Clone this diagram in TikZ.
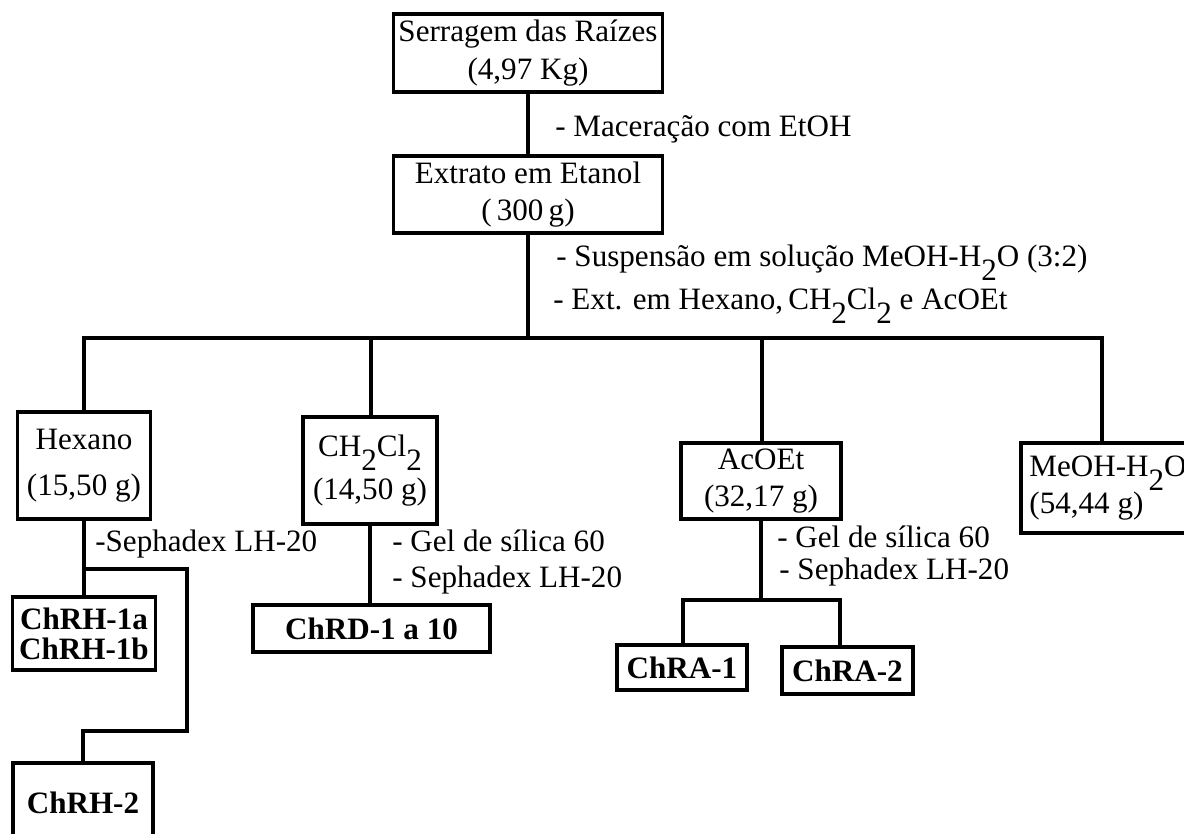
\documentclass[tikz,border=0pt]{standalone}
\usepackage{fontspec}
\setmainfont{Liberation Serif}
\newcommand{\baixo}[1]{\raisebox{-0.45em}{#1}}

\begin{document}
\begin{tikzpicture}[x=0.02cm,y=-0.02cm]
  \tikzstyle{caixa}=[draw=black, line width=2pt, inner sep=0pt, align=center,
  font=\fontsize{17.7}{21.2}\selectfont]
  \tikzstyle{produto}=[caixa, font=\fontsize{17.7}{21.2}\selectfont\bfseries]
  \tikzstyle{rotulo}=[anchor=base west, inner sep=0pt, font=\fontsize{17.7}{21.2}\selectfont]
  \tikzstyle{linha}=[line width=2pt, line cap=rect]
  \useasboundingbox (0,0) rectangle (1184,834);
  \clip (0,0) rectangle (1184,834);
  % caixas das etapas
  \foreach \n/\x/\y/\w/\h/\t in {serr/528/53/269/78/{Serragem das Raízes\\(4,97 Kg)},
    extr/528/194.5/269/77/{Extrato em Etanol\\(\,300\,g)},
    hex/84/465.5/133/107/{Hexano\\[0.18cm](15,50 g)},
    dcm/370/470.5/134/107/{CH\baixo{2}Cl\baixo{2}\\[0.1cm](14,50 g)},
    aco/761/481/160/76/{AcOEt\\(32,17 g)}} {
    \draw (\x,\y) node[caixa, minimum width=\w*0.02cm, minimum height=\h*0.02cm] (\n) {\t};
  }
  \draw (1108,488) node[caixa, align=left, minimum width=174*0.02cm,
    minimum height=90*0.02cm] (meoh) {MeOH-H\baixo{2}O\\(54,44 g)};
  % substancias isoladas
  \foreach \n/\x/\y/\w/\h/\t in {chrh1/84/633.5/143/73/{ChRH-1a\\[-0.14cm]ChRH-1b},
    chrh2/83/802.5/140/79/{ChRH-2},
    chrd/371.5/628.5/237/47/{ChRD-1 a 10},
    chra1/682/667.5/130/45/{ChRA-1},
    chra2/847.5/670.5/131/47/{ChRA-2}} {
    \draw (\x,\y) node[produto, minimum width=\w*0.02cm, minimum height=\h*0.02cm] (\n) {\t};
  }
  % textos dos procedimentos
  \foreach \n/\x/\y/\t in {mac/555/137/{- Maceração com EtOH},
    susp/556/267/{- Suspensão em solução MeOH-H\baixo{2}O (3:2)},
    ext/553/310/{- Ext. em Hexano,\,CH\baixo{2}Cl\baixo{2} e AcOEt},
    sep1/95/552/{-Sephadex LH-20},
    gel1/392/552/{- Gel de sílica 60},
    sep2/392/587/{- Sephadex LH-20},
    gel2/777/548/{- Gel de sílica 60},
    sep3/779/580/{- Sephadex LH-20}} {
    \node[rotulo] (\n) at (\x,\y) {\t};
  }
  % ligacoes
  \coordinate (tronco) at (528,338);
  \coordinate (r1) at (84,338);
  \coordinate (r2) at (371,338);
  \coordinate (r3) at (762,338);
  \coordinate (r4) at (1102,338);
  \coordinate (h1) at (84,569);
  \coordinate (h2) at (187,569);
  \coordinate (h3) at (187,731);
  \coordinate (h4) at (83,731);
  \coordinate (a1) at (683,600);
  \coordinate (a2) at (840,600);
  \draw[linha] (serr) -- (extr);
  \draw[linha] (extr.south) -- (tronco);
  \draw[linha] (r1) -- (r4);
  \foreach \a/\b in {r1/hex,r2/dcm,r3/aco,r4/meoh} {
    \draw[linha] (\a) -- (\a |- \b.north);
  }
  \draw[linha] (hex.south) -- (h1) -- (h2) -- (h3) -- (h4) -- (h4 |- chrh2.north);
  \draw[linha] (h1) -- (h1 |- chrh1.north);
  \draw[linha] (dcm.south) -- (dcm.south |- chrd.north);
  \draw[linha] (aco.south) -- (aco.south |- a1);
  \draw[linha] (a1) -- (a2);
  \foreach \a/\b in {a1/chra1,a2/chra2} {
    \draw[linha] (\a) -- (\a |- \b.north);
  }
\end{tikzpicture}
\end{document}
